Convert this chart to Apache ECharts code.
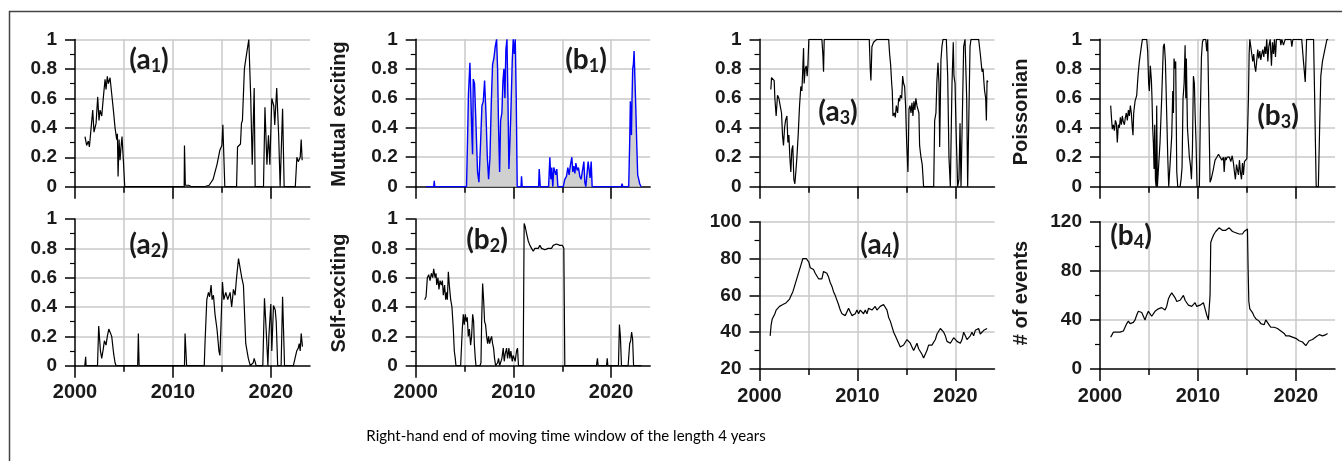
<!DOCTYPE html>
<html><head><meta charset="utf-8">
<script src="https://cdn.jsdelivr.net/npm/echarts@6/dist/echarts.min.js"></script>
<style>html,body{margin:0;padding:0;background:#fff}#c{width:1342px;height:461px}</style>
</head><body><div id="c"></div>
<script>
// ---- data (x = years after 2000, right-hand end of 4-year window) ----
const xTickLabels = [2000, 2010, 2020];
const xMinorTicks = [2005, 2015];
const panelNames = [['a','1'],['a','2'],['b','1'],['b','2'],['a','3'],['a','4'],['b','3'],['b','4']];
const yNames = ['Mutual exciting', 'Self-exciting', 'Poissonian', '# of events'];
const xTitle = 'Right-hand end of moving time window of the length 4 years';

const a1Data = [[1.02,0.34],[1.19,0.28],[1.36,0.31],[1.47,0.27],[1.81,0.52],[1.94,0.37],[2.15,0.43],[2.32,0.61],[2.45,0.45],[2.56,0.52],[2.73,0.48],[2.9,0.61],[3.07,0.73],[3.17,0.66],[3.3,0.75],[3.41,0.7],[3.58,0.74],[3.75,0.63],[3.92,0.52],[4.09,0.4],[4.26,0.32],[4.33,0.36],[4.4,0.07],[4.5,0.32],[4.6,0.18],[4.7,0.27],[4.8,0.34],[4.94,0.18],[5.08,0],[11.15,0],[11.18,0.28],[11.27,0.01],[11.4,0.02],[11.6,0.01],[11.9,0],[13.2,0],[13.4,0.01],[13.7,0.01],[13.85,0],[14.1,0.05],[14.5,0.15],[14.65,0.2],[14.8,0.25],[15.0,0.28],[15.1,0.42],[15.3,0],[16.5,0],[16.6,0.27],[16.9,0.29],[17.0,0.43],[17.1,0.45],[17.3,0.8],[17.45,0.87],[17.75,1.0],[17.95,0.6],[18.1,0.15],[18.2,0.15],[18.3,0.67],[18.4,0],[19.25,0],[19.4,0.54],[19.6,0.15],[19.76,0.35],[19.9,0.15],[20.1,0.6],[20.3,0.55],[20.4,0.42],[20.6,0.67],[20.8,0.35],[20.95,0],[21.1,0],[21.2,0.53],[21.36,0],[22.5,0],[22.66,0.2],[22.8,0.17],[23.0,0.2],[23.1,0.32],[23.2,0.18]];

const a2Data = [[1.0,0],[1.05,0],[1.09,0.06],[1.13,0],[2.3,0],[2.42,0.27],[2.6,0.1],[2.73,0.05],[2.9,0.12],[3.0,0.17],[3.17,0.14],[3.3,0.2],[3.45,0.25],[3.58,0.25],[3.75,0.2],[3.95,0.08],[4.09,0.02],[4.2,0],[6.4,0],[6.47,0.22],[6.55,0],[11.18,0],[11.24,0.22],[11.4,0],[13.2,0],[13.27,0.14],[13.46,0.45],[13.63,0.5],[13.75,0.47],[13.9,0.55],[14.0,0.45],[14.14,0.48],[14.3,0.35],[14.5,0.25],[14.7,0.1],[14.8,0.07],[15.06,0.57],[15.2,0.45],[15.4,0.5],[15.6,0.45],[15.84,0.5],[16.0,0.4],[16.18,0.52],[16.35,0.48],[16.5,0.6],[16.7,0.73],[16.86,0.72],[17.03,0.6],[17.2,0.55],[17.44,0.15],[17.7,0.05],[17.9,0],[18.2,0.02],[18.3,0.05],[18.5,0],[19.18,0],[19.35,0.46],[19.52,0.25],[19.7,0],[19.8,0.2],[20.0,0.42],[20.1,0.1],[20.27,0.41],[20.45,0.38],[20.55,0.3],[20.7,0],[21.05,0],[21.2,0.47],[21.4,0],[22.3,0],[22.47,0.05],[22.64,0.1],[22.8,0.12],[22.9,0.15],[23.0,0.1],[23.1,0.22],[23.23,0.13]];

const b1Data = [[1.06,0],[1.85,0],[1.9,0.04],[1.95,0],[5.2,0],[5.3,0.3],[5.4,0.63],[5.55,0.84],[5.65,0.6],[5.75,0.35],[5.82,0.22],[5.89,0.73],[6.02,0.7],[6.13,0.5],[6.23,0.3],[6.33,0.1],[6.47,0.03],[6.64,0.3],[6.78,0.55],[6.92,0.58],[7.05,0.72],[7.19,0.5],[7.33,0.2],[7.46,0.05],[7.6,0.2],[7.73,0.55],[7.8,0.7],[7.87,0.83],[8.0,0.87],[8.14,0.95],[8.28,1.0],[8.38,0.8],[8.48,0.4],[8.59,0.1],[8.69,0.45],[8.82,0.5],[8.93,0.72],[9.03,0.8],[9.13,0.6],[9.23,0.93],[9.34,1.0],[9.44,0.6],[9.54,0.12],[9.64,0.3],[9.74,0.5],[9.88,0.85],[9.98,1.0],[10.09,0.9],[10.19,1.0],[10.29,0.6],[10.39,0],[10.78,0],[10.83,0.07],[10.9,0],[12.58,0],[12.64,0.12],[12.75,0],[13.6,0],[13.73,0.2],[13.83,0.05],[13.93,0.13],[14.03,0],[14.14,0.13],[14.24,0.14],[14.34,0.08],[14.44,0.12],[14.55,0],[15.1,0],[15.26,0.05],[15.43,0.07],[15.57,0.13],[15.7,0.08],[15.84,0.15],[15.98,0.2],[16.08,0.1],[16.18,0.14],[16.29,0.09],[16.39,0.16],[16.53,0.11],[16.66,0.13],[16.8,0.07],[16.93,0.05],[17.07,0.06],[17.21,0.17],[17.31,0.03],[17.41,0],[17.55,0],[17.65,0.17],[17.75,0.16],[17.85,0.06],[17.96,0.17],[18.06,0],[21.05,0],[21.12,0.02],[21.2,0],[21.8,0],[21.9,0.3],[21.97,0.58],[22.08,0.35],[22.14,0.6],[22.21,0.8],[22.28,0.83],[22.35,0.92],[22.42,0.92],[22.52,0.55],[22.62,0.3],[22.72,0.08],[22.83,0.05],[22.93,0.02],[23.07,0]];

const b2Data = [[0.92,0.45],[1.06,0.47],[1.19,0.6],[1.33,0.62],[1.47,0.58],[1.6,0.63],[1.74,0.6],[1.84,0.66],[1.98,0.6],[2.08,0.63],[2.15,0.55],[2.28,0.6],[2.38,0.52],[2.49,0.58],[2.62,0.55],[2.73,0.58],[2.83,0.48],[2.96,0.55],[3.07,0.45],[3.17,0.5],[3.24,0.45],[3.34,0.64],[3.44,0.55],[3.58,0.45],[3.71,0.4],[3.85,0.25],[3.95,0.1],[4.05,0.05],[4.12,0],[4.6,0],[4.77,0.25],[4.87,0.35],[4.97,0.28],[5.08,0.35],[5.18,0.3],[5.28,0.33],[5.38,0.2],[5.49,0.25],[5.62,0.14],[5.72,0.2],[5.83,0.35],[5.93,0.3],[6.0,0.15],[6.1,0.05],[6.17,0],[6.58,0],[6.68,0.02],[6.75,0.3],[6.85,0.56],[6.95,0.45],[7.05,0.3],[7.15,0.28],[7.26,0.2],[7.36,0.15],[7.46,0.2],[7.56,0.15],[7.67,0.18],[7.77,0.2],[7.87,0.15],[7.97,0.12],[8.07,0.05],[8.18,0],[8.28,0],[8.38,0.02],[8.48,0.05],[8.59,0],[8.72,0],[8.82,0.05],[8.96,0.12],[9.06,0.03],[9.16,0.08],[9.3,0.12],[9.4,0.05],[9.54,0.12],[9.64,0.05],[9.74,0.1],[9.88,0.03],[9.98,0.07],[10.08,0.05],[10.18,0.03],[10.32,0.1],[10.42,0.12],[10.52,0],[11.0,0],[11.1,0.97],[11.2,0.95],[11.35,0.9],[11.52,0.85],[11.69,0.82],[11.86,0.8],[12.03,0.78],[12.2,0.8],[12.37,0.81],[12.54,0.8],[12.71,0.82],[12.88,0.8],[13.05,0.81],[13.22,0.79],[13.39,0.8],[13.56,0.8],[13.73,0.81],[13.9,0.8],[14.07,0.82],[14.24,0.82],[14.41,0.83],[14.58,0.82],[14.75,0.82],[14.92,0.81],[15.02,0.82],[15.16,0.8],[15.26,0],[18.5,0],[18.6,0.05],[18.67,0],[19.53,0],[19.6,0.05],[19.67,0],[20.75,0],[20.85,0.28],[20.95,0.2],[21.06,0],[21.74,0],[21.9,0.15],[22.0,0.17],[22.1,0.23],[22.2,0.18],[22.3,0],[23.1,0]];

const a3Data = [[1.16,0.66],[1.23,0.74],[1.36,0.73],[1.5,0.72],[1.57,0.6],[1.7,0.48],[1.84,0.62],[1.98,0.6],[2.11,0.55],[2.25,0.5],[2.35,0.35],[2.45,0.28],[2.56,0.4],[2.66,0.45],[2.8,0.48],[2.9,0.3],[3.0,0.35],[3.1,0.2],[3.2,0.1],[3.3,0.25],[3.4,0.28],[3.51,0.05],[3.61,0.02],[3.71,0.1],[3.82,0.2],[3.95,0.35],[4.09,0.55],[4.22,0.68],[4.33,0.65],[4.39,0.75],[4.5,0.94],[4.56,0.7],[4.67,0.8],[4.77,0.82],[4.87,0.75],[4.94,0.82],[5.04,1.0],[6.37,1.0],[6.47,0.9],[6.54,0.78],[6.61,1.0],[11.21,1.0],[11.31,0.8],[11.38,0.72],[11.48,0.95],[11.65,0.98],[11.82,0.99],[11.99,1.0],[13.19,1.0],[13.29,0.9],[13.39,0.83],[13.5,0.7],[13.56,0.65],[13.63,0.48],[13.77,0.5],[13.87,0.47],[13.97,0.55],[14.11,0.5],[14.21,0.6],[14.31,0.58],[14.38,0.62],[14.52,0.6],[14.62,0.75],[14.72,0.7],[14.82,0.68],[14.92,0.55],[15.03,0.3],[15.16,0.1],[15.27,0.53],[15.37,0.55],[15.47,0.5],[15.57,0.57],[15.67,0.48],[15.77,0.58],[15.87,0.52],[15.97,0.6],[16.08,0.55],[16.18,0.56],[16.28,0.5],[16.35,0.28],[16.49,0.2],[16.62,0.15],[16.76,0],[17.79,0],[17.89,0.45],[18.02,0.5],[18.12,0.72],[18.23,0.84],[18.33,0.7],[18.4,0.27],[18.53,0.86],[18.63,0.95],[18.74,1.0],[19.08,1.0],[19.22,0.75],[19.35,0.2],[19.49,0],[19.66,0.7],[19.79,0.98],[19.86,0.75],[19.97,0.7],[20.07,0.4],[20.24,0],[20.37,0.05],[20.48,0.43],[20.58,0],[20.71,0],[20.85,0.95],[20.99,1.0],[21.06,1.0],[21.16,0.6],[21.26,0],[21.4,0],[21.5,0.95],[21.6,1.0],[22.38,1.0],[22.55,0.9],[22.73,0.78],[22.83,0.8],[22.93,0.7],[22.99,0.65],[23.1,0.6],[23.17,0.45],[23.24,0.72],[23.34,0.71]];

const a4Data = [[1.09,38],[1.19,44],[1.29,47],[1.43,48],[1.57,50],[1.7,52],[1.87,53],[2.04,54],[2.21,54],[2.39,55],[2.56,56],[2.73,56],[2.9,57],[3.07,58],[3.24,60],[3.41,62],[3.58,65],[3.75,68],[3.92,71],[4.09,74],[4.26,77],[4.43,80],[4.6,80],[4.77,80],[4.94,81],[5.04,78],[5.18,75],[5.35,75],[5.52,74],[5.69,72],[5.86,72],[6.03,69],[6.2,68],[6.37,69],[6.54,73],[6.71,73],[6.88,72],[7.05,70],[7.22,67],[7.39,65],[7.56,62],[7.73,60],[7.9,59],[8.07,55],[8.25,52],[8.42,50],[8.59,50],[8.76,49],[8.93,50],[9.1,53],[9.27,51],[9.44,49],[9.61,48],[9.78,50],[9.95,52],[10.12,50],[10.29,52],[10.46,51],[10.63,50],[10.8,52],[10.97,50],[11.14,53],[11.31,54],[11.48,52],[11.65,53],[11.82,54],[11.99,52],[12.16,53],[12.33,54],[12.5,55],[12.67,55],[12.85,55],[13.02,52],[13.19,48],[13.36,46],[13.53,43],[13.7,40],[13.87,38],[14.04,36],[14.21,34],[14.38,32],[14.55,33],[14.72,33],[14.89,34],[15.06,36],[15.23,36],[15.4,34],[15.57,32],[15.74,30],[15.91,32],[16.08,34],[16.25,31],[16.42,30],[16.59,28],[16.76,26],[16.93,27],[17.1,30],[17.27,33],[17.44,33],[17.61,33],[17.79,34],[17.96,36],[18.13,39],[18.3,40],[18.47,42],[18.64,42],[18.81,40],[18.98,38],[19.15,35],[19.32,34],[19.49,34],[19.66,35],[19.83,37],[20.0,36],[20.17,35],[20.34,35],[20.51,34],[20.68,36],[20.85,40],[21.02,38],[21.19,36],[21.36,37],[21.53,38],[21.7,40],[21.87,38],[22.04,41],[22.21,40],[22.38,42],[22.55,39],[22.73,40],[22.9,41],[23.07,41],[23.24,42]];

const b3Data = [[1.09,0.55],[1.19,0.45],[1.26,0.39],[1.36,0.42],[1.47,0.38],[1.57,0.45],[1.67,0.43],[1.77,0.3],[1.87,0.42],[1.98,0.4],[2.08,0.47],[2.18,0.42],[2.28,0.48],[2.38,0.44],[2.49,0.42],[2.59,0.47],[2.69,0.5],[2.79,0.45],[2.9,0.52],[3.0,0.48],[3.1,0.55],[3.2,0.5],[3.3,0.4],[3.37,0.35],[3.44,0.5],[3.58,0.58],[3.75,0.62],[3.88,0.75],[4.02,0.85],[4.12,0.9],[4.22,0.95],[4.33,1.0],[4.77,1.0],[4.87,0.92],[4.97,0.7],[5.04,0.65],[5.14,0.82],[5.25,0.72],[5.31,0.6],[5.38,0.4],[5.45,0.3],[5.52,0.12],[5.59,0.42],[5.66,0.05],[5.73,0],[5.79,0.55],[5.86,0],[6.0,0],[6.13,0.3],[6.3,0.6],[6.47,0.95],[6.57,0.97],[6.68,0.85],[6.81,0.5],[6.92,0.2],[7.02,0],[7.22,0],[7.33,0.35],[7.43,0.65],[7.5,0.5],[7.56,0.87],[7.67,0.8],[7.73,0.85],[7.84,0.1],[7.94,0],[8.18,0],[8.28,0.05],[8.38,0.13],[8.48,0.6],[8.59,0.7],[8.69,0.96],[8.76,0.6],[8.82,0.87],[8.93,0.4],[9.03,0.3],[9.13,0.2],[9.23,0.15],[9.34,0.05],[9.44,0.25],[9.54,0.75],[9.64,0.7],[9.71,0.5],[9.81,0.3],[9.91,0],[10.15,0],[10.25,0.5],[10.36,0.88],[10.46,0.98],[10.56,1.0],[10.8,1.0],[10.9,0.92],[11.0,1.0],[11.14,1.0],[11.24,0.03],[11.35,0.05],[11.58,0.12],[11.75,0.18],[11.93,0.2],[12.1,0.22],[12.27,0.21],[12.44,0.18],[12.61,0.2],[12.68,0.1],[12.78,0.2],[12.88,0.18],[12.98,0.2],[13.12,0.19],[13.22,0.2],[13.36,0.17],[13.5,0.21],[13.63,0.16],[13.73,0.1],[13.83,0.05],[13.94,0.15],[14.04,0.14],[14.14,0.08],[14.24,0.18],[14.34,0.1],[14.45,0.05],[14.55,0.16],[14.65,0.08],[14.75,0.17],[14.86,0.18],[15.0,0.19],[15.1,0.2],[15.16,0.6],[15.23,0.9],[15.3,1.0],[15.4,0.95],[15.5,0.9],[15.6,0.85],[15.7,0.9],[15.8,0.82],[15.9,0.78],[16.0,0.85],[16.11,0.93],[16.21,0.87],[16.32,0.92],[16.42,0.86],[16.52,0.9],[16.62,0.93],[16.73,0.88],[16.83,0.95],[16.93,0.9],[17.03,1.0],[17.14,0.85],[17.24,0.95],[17.38,1.0],[17.51,0.82],[17.61,0.98],[17.72,0.9],[17.82,1.0],[17.92,0.88],[18.02,1.0],[18.4,1.0],[18.47,0.96],[18.57,1.0],[18.74,0.96],[18.91,1.0],[19.5,1.0],[19.59,0.95],[19.7,1.0],[20.6,1.0],[20.78,0.85],[20.96,0.71],[21.1,1.0],[21.81,1.0],[21.91,0.65],[22.0,0.3],[22.08,0],[22.3,0],[22.43,0.4],[22.55,0.75],[22.72,0.85],[22.93,0.92],[23.18,1.0],[23.3,1.0]];

const b4Data = [[1.09,26],[1.23,28],[1.36,30],[1.53,30],[1.7,30],[1.87,31],[2.04,30],[2.21,30],[2.39,31],[2.56,32],[2.73,37],[2.9,39],[3.07,37],[3.24,36],[3.41,38],[3.58,40],[3.75,44],[3.92,47],[4.09,47],[4.26,46],[4.43,43],[4.6,40],[4.77,44],[4.94,47],[5.11,46],[5.28,43],[5.45,44],[5.62,47],[5.79,48],[5.96,49],[6.13,48],[6.3,50],[6.47,49],[6.64,48],[6.81,51],[6.98,57],[7.16,60],[7.33,62],[7.5,61],[7.67,58],[7.84,55],[8.0,55],[8.18,56],[8.35,57],[8.52,60],[8.69,56],[8.86,54],[9.03,52],[9.2,53],[9.37,51],[9.54,52],[9.71,54],[9.88,51],[10.05,50],[10.22,52],[10.39,53],[10.56,54],[10.73,55],[10.9,44],[11.07,40],[11.18,39],[11.24,60],[11.31,103],[11.48,107],[11.65,110],[11.82,112],[11.99,112],[12.16,115],[12.33,116],[12.5,113],[12.67,112],[12.84,113],[13.02,113],[13.19,115],[13.36,114],[13.53,112],[13.7,112],[13.87,111],[14.04,111],[14.21,110],[14.38,110],[14.55,110],[14.72,112],[14.89,113],[15.06,114],[15.13,80],[15.2,55],[15.3,49],[15.4,48],[15.57,46],[15.74,43],[15.91,41],[16.08,40],[16.25,39],[16.42,37],[16.59,38],[16.76,36],[16.93,40],[17.1,38],[17.27,36],[17.44,34],[17.62,35],[17.79,34],[17.96,33],[18.13,33],[18.3,32],[18.47,31],[18.64,30],[18.81,29],[18.98,27],[19.15,28],[19.32,27],[19.49,27],[19.66,26],[19.83,26],[20.0,25],[20.17,24],[20.34,23],[20.51,24],[20.68,22],[20.85,21],[21.02,19],[21.19,21],[21.36,23],[21.53,22],[21.7,24],[21.87,24],[22.04,26],[22.21,27],[22.39,28],[22.56,29],[22.73,27],[22.9,27],[23.07,28],[23.24,29]];

// ---- layout ----
const panels = [
  {data:a1Data, grid:[75,39.5,235,147.2], y:[0,1,0.2], lab:[149,60], bottom:false},
  {data:a2Data, grid:[75,219,235,146.7], y:[0,1,0.2], lab:[149,245], bottom:true},
  {data:b1Data, grid:[415.7,39.3,234.5,147.4], y:[0,1,0.2], lab:[586,60], bottom:false, blue:true},
  {data:b2Data, grid:[415.7,219,234.5,146.7], y:[0,1,0.2], lab:[487,240], bottom:true},
  {data:a3Data, grid:[759.5,39.3,235,147.4], y:[0,1,0.2], lab:[838,112], bottom:false},
  {data:a4Data, grid:[759.5,221.7,235,147.3], y:[20,100,20], lab:[880,245], bottom:true},
  {data:b3Data, grid:[1100,39.3,235,147.4], y:[0,1,0.2], lab:[1278,116], bottom:false},
  {data:b4Data, grid:[1100,221.7,235,147.3], y:[0,120,40], lab:[1131,236], bottom:true}
];
const columns = [[75,39.5,235,326.2],[415.7,39.3,234.5,326.4],[759.5,39.3,235,329.7],[1100,39.3,235,329.7]];
const yNamePos = [[339,114],[339,293],[1021,112],[1021,293]];

const TICKFONT = 'Liberation Sans';
const grids = [], xAxes = [], yAxes = [], series = [], graphics = [];
const black = {color:'#000', width:1.5};
const gridColor = '#c8c8c8';

panels.forEach((p, i) => {
  grids.push({left:p.grid[0], top:p.grid[1], width:p.grid[2], height:p.grid[3], containLabel:false});
  xAxes.push({gridIndex:i, type:'value', min:2000, max:2024, interval:5, position:'bottom',
    axisLine:{show:true, onZero:false, lineStyle:black},
    axisTick:{show:true, customValues:xTickLabels, length:12, lineStyle:black},
    axisLabel:{show:p.bottom, customValues:xTickLabels, formatter:v => String(v), margin:17,
      fontFamily:TICKFONT, fontWeight:'bold', fontSize:20, color:'#1a1a1a'},
    splitLine:{show:false}});
  xAxes.push({gridIndex:i, type:'value', min:2000, max:2024, interval:5, position:'bottom',
    axisLine:{show:false}, axisLabel:{show:false}, splitLine:{show:false},
    axisTick:{show:true, customValues:xMinorTicks, length:6, lineStyle:black}});
  yAxes.push({gridIndex:i, type:'value', min:p.y[0], max:p.y[1], interval:p.y[2],
    axisLine:{show:true, onZero:false, lineStyle:black},
    axisTick:{show:true, length:10, lineStyle:black},
    minorTick:{show:true, splitNumber:2, length:5, lineStyle:{color:'#000', width:1.2}},
    axisLabel:{margin:18, fontFamily:TICKFONT, fontWeight:'bold', fontSize:19, color:'#1a1a1a'},
    splitLine:{show:true, showMinLine:false, lineStyle:{color:gridColor, width:1.5}}});
  series.push({type:'line', xAxisIndex:2*i, yAxisIndex:i, symbol:'none', showSymbol:false, animation:false,
    data:p.data.map(d => [2000 + d[0], d[1]]),
    lineStyle:{color:p.blue ? '#0000ff' : '#000', width:p.blue ? 1.4 : 1.2},
    areaStyle:p.blue ? {color:'#d0d0d0', opacity:1} : undefined, z:5});
  graphics.push({type:'text', x:p.lab[0], y:p.lab[1], z:10,
    style:{text:'{m|(' + panelNames[i][0] + '}{s|' + panelNames[i][1] + '}{m|)}',
      textAlign:'center', textVerticalAlign:'middle',
      rich:{m:{fontFamily:'Lato', fontWeight:'bold', fontSize:28, fill:'#1a1a1a', lineHeight:28},
            s:{fontFamily:'Lato', fontWeight:'bold', fontSize:18, fill:'#1a1a1a', lineHeight:18, padding:[13,0,0,0]}}}});
});

// column-spanning vertical grid lines (continue through the gap between rows)
columns.forEach((c, k) => {
  grids.push({left:c[0], top:c[1], width:c[2], height:c[3], containLabel:false});
  xAxes.push({gridIndex:8 + k, type:'value', min:2000, max:2024, interval:5, position:'bottom',
    axisLine:{show:false}, axisTick:{show:false}, axisLabel:{show:false},
    splitLine:{show:true, showMinLine:false, showMaxLine:false, lineStyle:{color:gridColor, width:1.5}}});
  yAxes.push({gridIndex:8 + k, type:'value', min:0, max:1, show:false, splitLine:{show:false}});
});

yNames.forEach((n, k) => {
  graphics.push({type:'text', x:yNamePos[k][0], y:yNamePos[k][1], rotation:Math.PI / 2, z:10,
    style:{text:n, textAlign:'center', textVerticalAlign:'middle', fontFamily:TICKFONT, fontWeight:'bold', fontSize:20, fill:'#1a1a1a'}});
});
graphics.push({type:'text', x:566, y:436, z:10,
  style:{text:xTitle, textAlign:'center', textVerticalAlign:'middle', fontFamily:'Lato', fontSize:15, fill:'#000'}});
graphics.push({type:'rect', z:0, shape:{x:9.5, y:11.5, width:1400, height:500},
  style:{fill:'none', stroke:'#444', lineWidth:1.5}});

const chart = echarts.init(document.getElementById('c'));
chart.setOption({animation:false, backgroundColor:'#fff', grid:grids, xAxis:xAxes, yAxis:yAxes, series:series, graphic:graphics});
</script></body></html>
